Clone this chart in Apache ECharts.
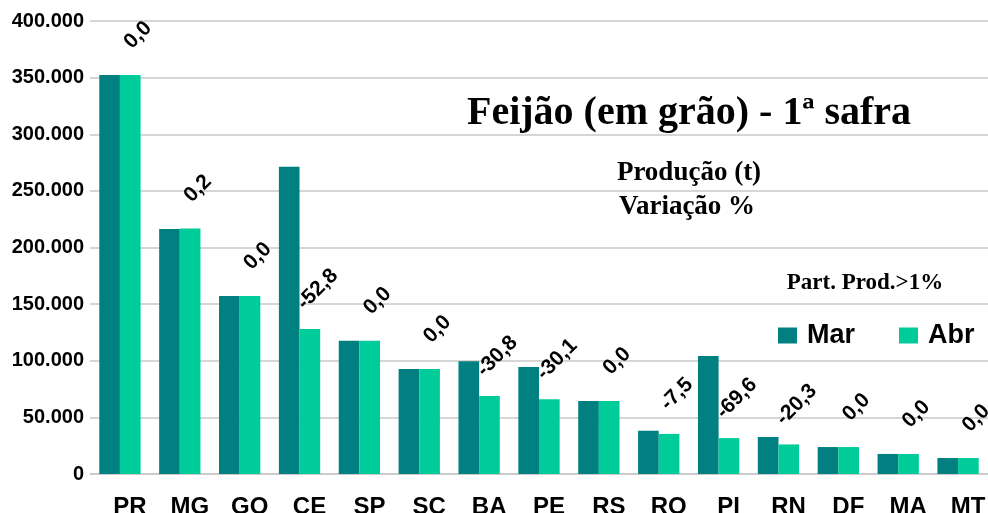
<!DOCTYPE html>
<html>
<head>
<meta charset="utf-8">
<script src="https://cdn.jsdelivr.net/npm/echarts@6/dist/echarts.min.js"></script>
<style>
  html, body { margin: 0; padding: 0; background: #fff; }
  #chart { width: 988px; height: 513px; }
</style>
</head>
<body>
<div id="chart"></div>
<script>
// 数据
const estados = ['PR', 'MG', 'GO', 'CE', 'SP', 'SC', 'BA', 'PE', 'RS', 'RO', 'PI', 'RN', 'DF', 'MA', 'MT'];
const producaoMar = [352400, 216400, 157200, 271200, 117700, 92700, 99600, 94500, 64500, 38300, 104200, 32700, 23800, 17700, 14100];
const producaoAbr = [352400, 216800, 157200, 128000, 117700, 92700, 68900, 66100, 64500, 35400, 31700, 26100, 23800, 17700, 14100];
const variacao = [0.0, 0.2, 0.0, -52.8, 0.0, 0.0, -30.8, -30.1, 0.0, -7.5, -69.6, -20.3, 0.0, 0.0, 0.0];

const corMar = '#008080';
const corAbr = '#00cc99';
const sans = 'Liberation Sans, Arial, sans-serif';
const serif = 'Liberation Serif, Times New Roman, serif';

const chart = echarts.init(document.getElementById('chart'));

const option = {
    animation: false,
    title: [
        {
            text: 'Feijão (em grão) - 1ª safra',
            left: 684, top: 89, textAlign: 'center',
            textStyle: { fontFamily: serif, fontSize: 40, fontWeight: 'bold', color: '#000' }
        },
        {
            text: 'Produção (t)',
            left: 684, top: 155, textAlign: 'center',
            textStyle: { fontFamily: serif, fontSize: 27, fontWeight: 'bold', color: '#000' }
        },
        {
            text: 'Variação %',
            left: 682, top: 189, textAlign: 'center',
            textStyle: { fontFamily: serif, fontSize: 27, fontWeight: 'bold', color: '#000' }
        },
        {
            text: 'Part. Prod.>1%',
            left: 860, top: 267, textAlign: 'center',
            textStyle: { fontFamily: serif, fontSize: 23, fontWeight: 'bold', color: '#000' }
        }
    ],
    legend: {
        data: ['Mar', 'Abr'],
        left: 778, top: 322, padding: 0,
        itemWidth: 19, itemHeight: 16, itemGap: 44,
        icon: 'rect',
        textStyle: { fontFamily: sans, fontSize: 27, fontWeight: 'bold', color: '#000', padding: [0, 0, 0, 5] }
    },
    grid: { left: 90, right: 0, top: 21, bottom: 39, outerBoundsMode: 'none' },
    xAxis: {
        type: 'category',
        data: estados,
        axisLine: { lineStyle: { color: '#c8c8c8', width: 1.5 } },
        axisTick: { show: false },
        axisLabel: {
            margin: 21, padding: [0, 0, 0, 20],
            fontFamily: sans, fontSize: 24, fontWeight: 'bold', color: '#000'
        }
    },
    yAxis: {
        type: 'value',
        min: 0, max: 400000, interval: 50000,
        axisLine: { show: false },
        axisTick: { show: false },
        splitLine: { lineStyle: { color: '#c8c8c8', width: 1.5 } },
        axisLabel: {
            margin: 6,
            fontFamily: sans, fontSize: 20, fontWeight: 'bold', color: '#000',
            formatter: v => v.toString().replace(/\B(?=(\d{3})+(?!\d))/g, '.')
        }
    },
    series: [
        {
            name: 'Mar', type: 'bar', data: producaoMar,
            itemStyle: { color: corMar },
            barGap: 0, barCategoryGap: '31%'
        },
        {
            name: 'Abr', type: 'bar', data: producaoAbr,
            itemStyle: { color: corAbr },
            barGap: 0, barCategoryGap: '31%',
            label: {
                show: true,
                position: 'top',
                distance: 32,
                offset: [11, 0],
                rotate: 45,
                align: 'center',
                verticalAlign: 'middle',
                fontFamily: sans, fontSize: 21, fontWeight: 'bold', color: '#000',
                formatter: p => variacao[p.dataIndex].toFixed(1).replace('.', ',')
            }
        }
    ]
};
chart.setOption(option);
</script>
</body>
</html>
